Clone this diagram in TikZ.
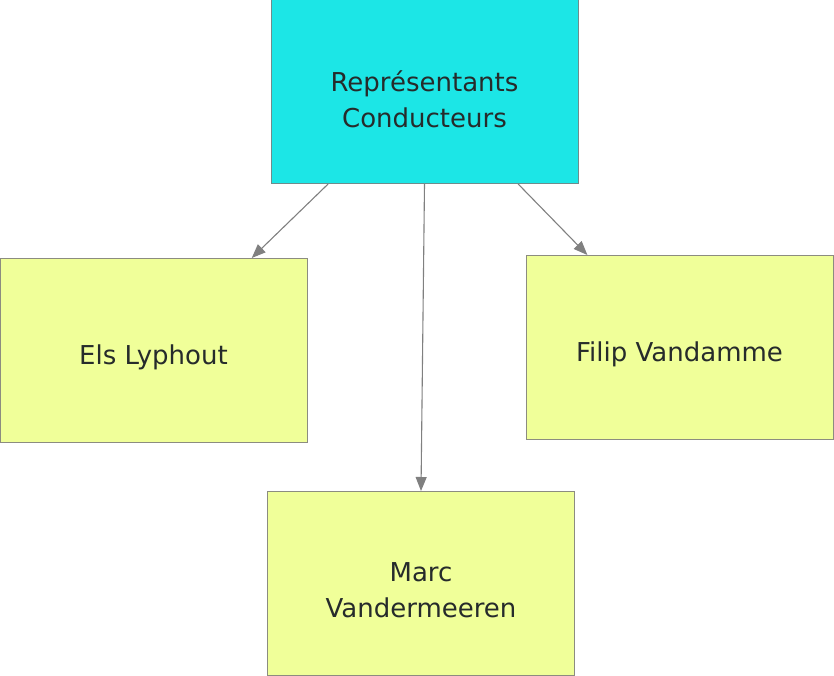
\documentclass[tikz,border=0pt]{standalone}
\usepackage{fontspec}
\setmainfont{DejaVu Sans}
\usetikzlibrary{arrows.meta,calc}
\definecolor{cyanfill}{HTML}{1CE6E6}
\definecolor{cyanline}{HTML}{6E8C8C}
\definecolor{lemonfill}{HTML}{F0FF99}
\definecolor{lemonline}{HTML}{8C8C80}
\definecolor{inktext}{HTML}{262B2B}
\definecolor{arrowgray}{HTML}{808080}
\begin{document}
\begin{tikzpicture}[x=1pt,y=-1pt,
    box/.style={draw,line width=1pt,minimum width=307pt,minimum height=184pt,
      inner sep=0pt,outer sep=0pt},
    caption/.style={align=center,text=inktext,yshift=-7pt,
      font=\fontsize{26}{36}\selectfont},
    head/.style={box,fill=cyanfill,draw=cyanline},
    member/.style={box,fill=lemonfill,draw=lemonline},
    link/.style={draw=arrowgray,line width=1.1pt,-{Triangle[length=14pt,width=11pt]}}]
    \useasboundingbox (0,0) rectangle (834,676);
    % Chef
    \node[head,label={[caption]center:Représentants\\Conducteurs}] (rep) at (424.5,92) {};
    % Equipe
    \node[member,label={[caption]center:Els Lyphout}] (els) at (153.5,350) {};
    \node[member,label={[caption]center:Filip Vandamme}] (filip) at (679.5,347) {};
    \node[member,label={[caption]center:Marc\\Vandermeeren}] (marc) at (421,583) {};
    \draw[link] ($(rep.south west)!0.186!(rep.south east)$) -- ($(els.north west)!0.82!(els.north east)$);
    \draw[link] (rep.south) -- (marc.north);
    \draw[link] ($(rep.south west)!0.805!(rep.south east)$) -- ($(filip.north west)!0.2!(filip.north east)$);
\end{tikzpicture}
\end{document}
